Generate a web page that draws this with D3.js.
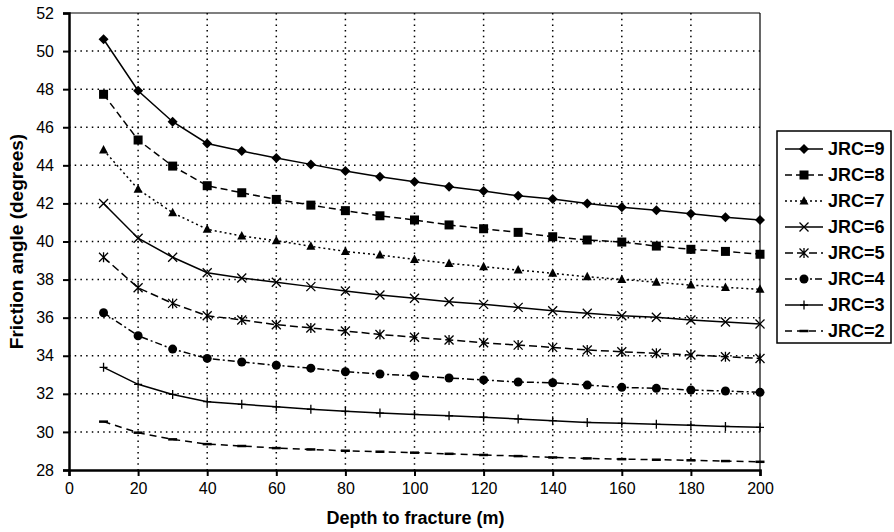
<!DOCTYPE html>
<html>
<head>
<meta charset="utf-8">
<script src="https://cdn.jsdelivr.net/npm/d3@7"></script>
<style>
  body { margin: 0; background: #fff; }
  svg text { font-family: "Liberation Sans", Arial, sans-serif; fill: #000; }
</style>
</head>
<body>
<div class="chart"></div>
<script>
// depths (m) and friction angles (degrees)
const depths = [10, 20, 30, 40, 50, 60, 70, 80, 90, 100, 110, 120, 130, 140, 150, 160, 170, 180, 190, 200];
const jrc9 = [50.62, 47.92, 46.29, 45.15, 44.75, 44.38, 44.05, 43.70, 43.40, 43.14, 42.88, 42.65, 42.40, 42.23, 42.00, 41.80, 41.64, 41.46, 41.27, 41.13];
const jrc8 = [47.73, 45.33, 43.96, 42.93, 42.56, 42.21, 41.91, 41.62, 41.35, 41.13, 40.87, 40.67, 40.48, 40.25, 40.08, 39.97, 39.76, 39.59, 39.48, 39.33];
const jrc7 = [44.80, 42.74, 41.51, 40.64, 40.29, 40.04, 39.75, 39.48, 39.29, 39.06, 38.85, 38.68, 38.50, 38.33, 38.15, 38.01, 37.86, 37.71, 37.59, 37.49];
const jrc6 = [42.00, 40.17, 39.17, 38.36, 38.08, 37.86, 37.63, 37.40, 37.19, 37.02, 36.84, 36.70, 36.54, 36.36, 36.23, 36.10, 36.02, 35.88, 35.77, 35.67];
const jrc5 = [39.17, 37.57, 36.75, 36.10, 35.88, 35.63, 35.46, 35.30, 35.12, 34.97, 34.83, 34.68, 34.56, 34.44, 34.30, 34.21, 34.13, 34.04, 33.95, 33.86];
const jrc4 = [36.26, 35.05, 34.35, 33.86, 33.67, 33.50, 33.35, 33.16, 33.04, 32.95, 32.83, 32.73, 32.62, 32.58, 32.46, 32.34, 32.29, 32.20, 32.15, 32.08];
const jrc3 = [33.39, 32.50, 31.97, 31.59, 31.45, 31.32, 31.19, 31.08, 30.99, 30.92, 30.85, 30.77, 30.68, 30.59, 30.50, 30.45, 30.40, 30.35, 30.29, 30.24];
const jrc2 = [30.54, 29.96, 29.61, 29.36, 29.26, 29.15, 29.08, 29.01, 28.96, 28.91, 28.85, 28.79, 28.73, 28.66, 28.61, 28.57, 28.54, 28.51, 28.47, 28.43];

const seriesNames = ["JRC=9", "JRC=8", "JRC=7", "JRC=6", "JRC=5", "JRC=4", "JRC=3", "JRC=2"];
const seriesValues = [jrc9, jrc8, jrc7, jrc6, jrc5, jrc4, jrc3, jrc2];
const dashes = [null, "7,4", "2,3", null, "8,4", "7,3,2,3", null, "7,5"];
const markers = ["diamond", "square", "triangle", "cross", "asterisk", "circle", "plus", "dash"];

const xTicks = d3.range(0, 201, 20);
const yTicks = d3.range(28, 53, 2);

const width = 894, height = 532;
const plotLeft = 69, plotRight = 760, plotTop = 13, plotBottom = 470;

const x = d3.scaleLinear().domain([0, 200]).range([plotLeft, plotRight]);
const y = d3.scaleLinear().domain([28, 52]).range([plotBottom, plotTop]);

const svg = d3.select(".chart").append("svg")
    .attr("width", width)
    .attr("height", height);

// dotted grid
const grid = svg.append("g");
grid.selectAll("line.gx")
    .data(xTicks.filter(d => d > 0 && d < 200))
    .enter().append("line")
    .attr("x1", d => x(d)).attr("x2", d => x(d))
    .attr("y1", plotTop).attr("y2", plotBottom)
    .attr("stroke", "#000").attr("stroke-width", 1.5)
    .attr("stroke-dasharray", "1.5,4.2");
grid.selectAll("line.gy")
    .data(yTicks.filter(d => d > 28 && d < 52))
    .enter().append("line")
    .attr("x1", plotLeft).attr("x2", plotRight)
    .attr("y1", d => y(d)).attr("y2", d => y(d))
    .attr("stroke", "#000").attr("stroke-width", 1.5)
    .attr("stroke-dasharray", "1.5,4.2");

// thin top/right frame
svg.append("line").attr("x1", plotLeft).attr("x2", plotRight)
    .attr("y1", plotTop).attr("y2", plotTop).attr("stroke", "#000").attr("stroke-width", 1.2);
svg.append("line").attr("x1", plotRight).attr("x2", plotRight)
    .attr("y1", plotTop).attr("y2", plotBottom).attr("stroke", "#000").attr("stroke-width", 1.2);

// axes
const xAxis = svg.append("g")
    .attr("transform", `translate(0,${plotBottom})`)
    .call(d3.axisBottom(x).tickValues(xTicks).tickSize(6).tickPadding(7));
const yAxis = svg.append("g")
    .attr("transform", `translate(${plotLeft},0)`)
    .call(d3.axisLeft(y).tickValues(yTicks).tickSize(6).tickPadding(9));

[xAxis, yAxis].forEach(ax => {
    ax.select(".domain").attr("stroke", "#000").attr("stroke-width", 2.5);
    ax.selectAll(".tick line").attr("stroke", "#000").attr("stroke-width", 2);
    ax.selectAll(".tick text").attr("font-size", 16)
        .style("font-family", '"Liberation Sans", Arial, sans-serif');
});

// marker shapes
function drawMarker(g, type) {
    const s = "#000";
    if (type === "diamond") {
        g.append("path").attr("d", "M0,-5L5,0L0,5L-5,0Z").attr("fill", s);
    } else if (type === "square") {
        g.append("rect").attr("x", -4.5).attr("y", -4.5).attr("width", 9).attr("height", 9).attr("fill", s);
    } else if (type === "triangle") {
        g.append("path").attr("d", "M0,-5L4.5,3.5L-4.5,3.5Z").attr("fill", s);
    } else if (type === "cross") {
        g.append("path").attr("d", "M-4.5,-4.5L4.5,4.5M-4.5,4.5L4.5,-4.5").attr("stroke", s).attr("stroke-width", 1.3);
    } else if (type === "asterisk") {
        g.append("path").attr("d", "M-4.5,-4.5L4.5,4.5M-4.5,4.5L4.5,-4.5M0,-5L0,5").attr("stroke", s).attr("stroke-width", 1.3);
    } else if (type === "circle") {
        g.append("circle").attr("r", 4.5).attr("fill", s);
    } else if (type === "plus") {
        g.append("path").attr("d", "M-4,0L4,0M0,-4.5L0,4.5").attr("stroke", s).attr("stroke-width", 1.3);
    } else if (type === "dash") {
        g.append("path").attr("d", "M-4.5,0L4.5,0").attr("stroke", s).attr("stroke-width", 2.5);
    }
}

const line = d3.line()
    .x(d => x(d[0]))
    .y(d => y(d[1]));

const plot = svg.append("g");
seriesValues.forEach((vals, i) => {
    const pts = depths.map((d, j) => [d, vals[j]]);
    plot.append("path")
        .datum(pts)
        .attr("d", line)
        .attr("fill", "none")
        .attr("stroke", "#000")
        .attr("stroke-width", 1.5)
        .attr("stroke-dasharray", dashes[i]);
    pts.forEach(p => {
        const g = plot.append("g").attr("transform", `translate(${x(p[0])},${y(p[1])})`);
        drawMarker(g, markers[i]);
    });
});

// legend
const legendX = 777, legendY = 131, rowH = 26;
const legend = svg.append("g");
legend.append("rect")
    .attr("x", legendX).attr("y", legendY)
    .attr("width", 114).attr("height", rowH * seriesNames.length + 4)
    .attr("fill", "#fff").attr("stroke", "#000").attr("stroke-width", 1.5);
seriesNames.forEach((name, i) => {
    const cy = legendY + 18 + i * rowH;
    legend.append("line")
        .attr("x1", legendX + 8).attr("x2", legendX + 46)
        .attr("y1", cy).attr("y2", cy)
        .attr("stroke", "#000").attr("stroke-width", 1.5)
        .attr("stroke-dasharray", dashes[i]);
    const g = legend.append("g").attr("transform", `translate(${legendX + 27},${cy})`);
    drawMarker(g, markers[i]);
    legend.append("text")
        .attr("x", legendX + 51).attr("y", cy + 6)
        .attr("font-size", 18).attr("font-weight", "bold")
        .text(name);
});

// axis titles
svg.append("text")
    .attr("x", (plotLeft + plotRight) / 2 + 1).attr("y", 524)
    .attr("text-anchor", "middle")
    .attr("font-size", 18).attr("font-weight", "bold")
    .text("Depth to fracture (m)");
svg.append("text")
    .attr("transform", `translate(23,${(plotTop + plotBottom) / 2}) rotate(-90)`)
    .attr("text-anchor", "middle")
    .attr("font-size", 19).attr("font-weight", "bold")
    .text("Friction angle (degrees)");
</script>
</body>
</html>
